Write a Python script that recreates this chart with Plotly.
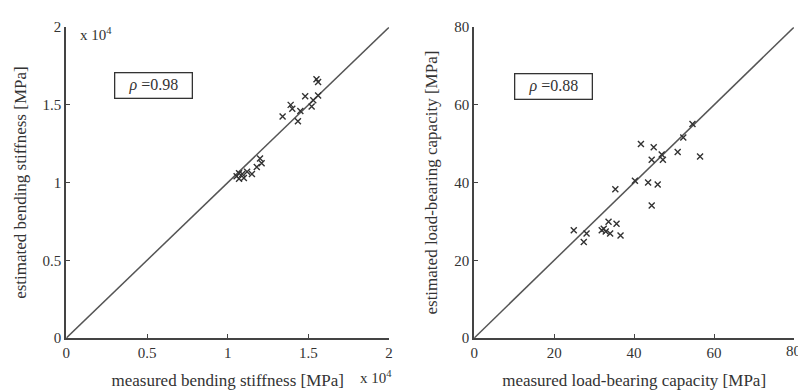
import plotly.graph_objects as go

# Left panel: bending stiffness (x 10^4 MPa)
stiff_measured = [1.55, 1.56, 1.48, 1.56, 1.53, 1.52, 1.39, 1.40, 1.45, 1.34, 1.435,
                  1.20, 1.21, 1.18, 1.15, 1.12, 1.09, 1.055, 1.07, 1.10, 1.07]
stiff_estimated = [1.665, 1.648, 1.555, 1.56, 1.53, 1.49, 1.50, 1.475, 1.46, 1.425, 1.395,
                   1.155, 1.125, 1.10, 1.055, 1.07, 1.055, 1.04, 1.025, 1.03, 1.06]

# Right panel: load-bearing capacity (MPa)
load_measured = [54.6, 52.3, 41.7, 44.9, 46.9, 47.2, 44.4, 50.9, 56.5, 40.2, 43.5, 45.9,
                 35.3, 44.4, 33.6, 35.6, 32.4, 32.9, 34.0, 36.6, 24.9, 28.1, 27.4, 31.9]
load_estimated = [55.1, 51.6, 49.9, 49.1, 47.2, 45.9, 45.9, 47.9, 46.7, 40.5, 40.0, 39.5,
                  38.3, 34.1, 29.9, 29.4, 28.1, 27.4, 26.9, 26.4, 27.7, 26.9, 24.7, 27.7]

left_range = [0, 2]
left_ticks = [0, 0.5, 1, 1.5, 2]
left_ticklabels = ["0", "0.5", "1", "1.5", "2"]
right_range = [0, 80]
right_ticks = [0, 20, 40, 60, 80]

rho_left = "0.98"
rho_right = "0.88"

FONT = "Liberation Serif"
GRAY = "#555555"
AX = "#444444"
TXT = "#333333"

fig = go.Figure()

marker = dict(symbol="x-thin", size=6, line=dict(width=1.4, color="#333333"), color="#333333")

fig.add_trace(go.Scatter(x=left_range, y=left_range, mode="lines",
                         line=dict(color=GRAY, width=1.5), xaxis="x", yaxis="y", showlegend=False))
fig.add_trace(go.Scatter(x=stiff_measured, y=stiff_estimated, mode="markers",
                         marker=marker, xaxis="x", yaxis="y", showlegend=False))
fig.add_trace(go.Scatter(x=right_range, y=right_range, mode="lines",
                         line=dict(color=GRAY, width=1.5), xaxis="x2", yaxis="y2", showlegend=False))
fig.add_trace(go.Scatter(x=load_measured, y=load_estimated, mode="markers",
                         marker=marker, xaxis="x2", yaxis="y2", showlegend=False))

W, H = 798, 392
ybot = 1 - 344 / H
ytop = 1 - 20 / H

axis_common = dict(showgrid=False, zeroline=False, showline=True, linecolor=AX, linewidth=2,
                   ticks="inside", ticklen=4, tickwidth=1.2, tickcolor=AX,
                   tickfont=dict(family=FONT, size=15, color=TXT),
                   title_font=dict(family=FONT, size=17, color=TXT), mirror=False)

fig.update_layout(
    width=W, height=H,
    margin=dict(l=0, r=0, t=0, b=0),
    paper_bgcolor="white", plot_bgcolor="white",
    xaxis=dict(domain=[63 / W, 389 / W], range=left_range, tickvals=left_ticks,
               ticktext=left_ticklabels, anchor="y",
               title=dict(text="measured bending stiffness [MPa]", standoff=14), **axis_common),
    yaxis=dict(domain=[ybot, ytop], range=left_range, tickvals=left_ticks,
               ticktext=left_ticklabels, anchor="x",
               title=dict(text="estimated bending stiffness [MPa]", standoff=12), **axis_common),
    xaxis2=dict(domain=[475 / W, 1.0], range=right_range, tickvals=right_ticks[:-1], anchor="y2",
                title=dict(text="measured load-bearing capacity [MPa]", standoff=14), **axis_common),
    yaxis2=dict(domain=[ybot, ytop], range=right_range, tickvals=right_ticks, anchor="x2",
                title=dict(text="estimated load-bearing capacity [MPa]", standoff=12), **axis_common),
)

# last x tick label of right panel (runs off the page edge, as in the reference)
fig.add_annotation(x=right_ticks[-1], y=ybot, xref="x2", yref="paper", yshift=-3,
                   yanchor="top", xanchor="center", text=str(right_ticks[-1]), showarrow=False,
                   font=dict(family=FONT, size=15, color=TXT))

box = dict(showarrow=False, xref="paper", yref="paper", xanchor="center", yanchor="middle",
           font=dict(family=FONT, size=16, color=TXT),
           bordercolor="#333333", borderwidth=1.3, borderpad=3, width=70, bgcolor="white")
fig.add_annotation(x=151 / W, y=1 - 81 / H, text="<i>ρ</i> =" + rho_left, **box)
fig.add_annotation(x=555 / W, y=1 - 82 / H, text="<i>ρ</i> =" + rho_right, **box)

fig.add_annotation(x=75 / W, y=1 - 27 / H, xref="paper", yref="paper", xanchor="left",
                   yanchor="middle", text="x 10<sup>4</sup>", showarrow=False,
                   font=dict(family=FONT, size=15, color=TXT))
fig.add_annotation(x=358 / W, y=1 - 385 / H, xref="paper", yref="paper", xanchor="left",
                   yanchor="middle", text="x 10<sup>4</sup>", showarrow=False,
                   font=dict(family=FONT, size=15, color=TXT))

fig.write_html("out.html")
